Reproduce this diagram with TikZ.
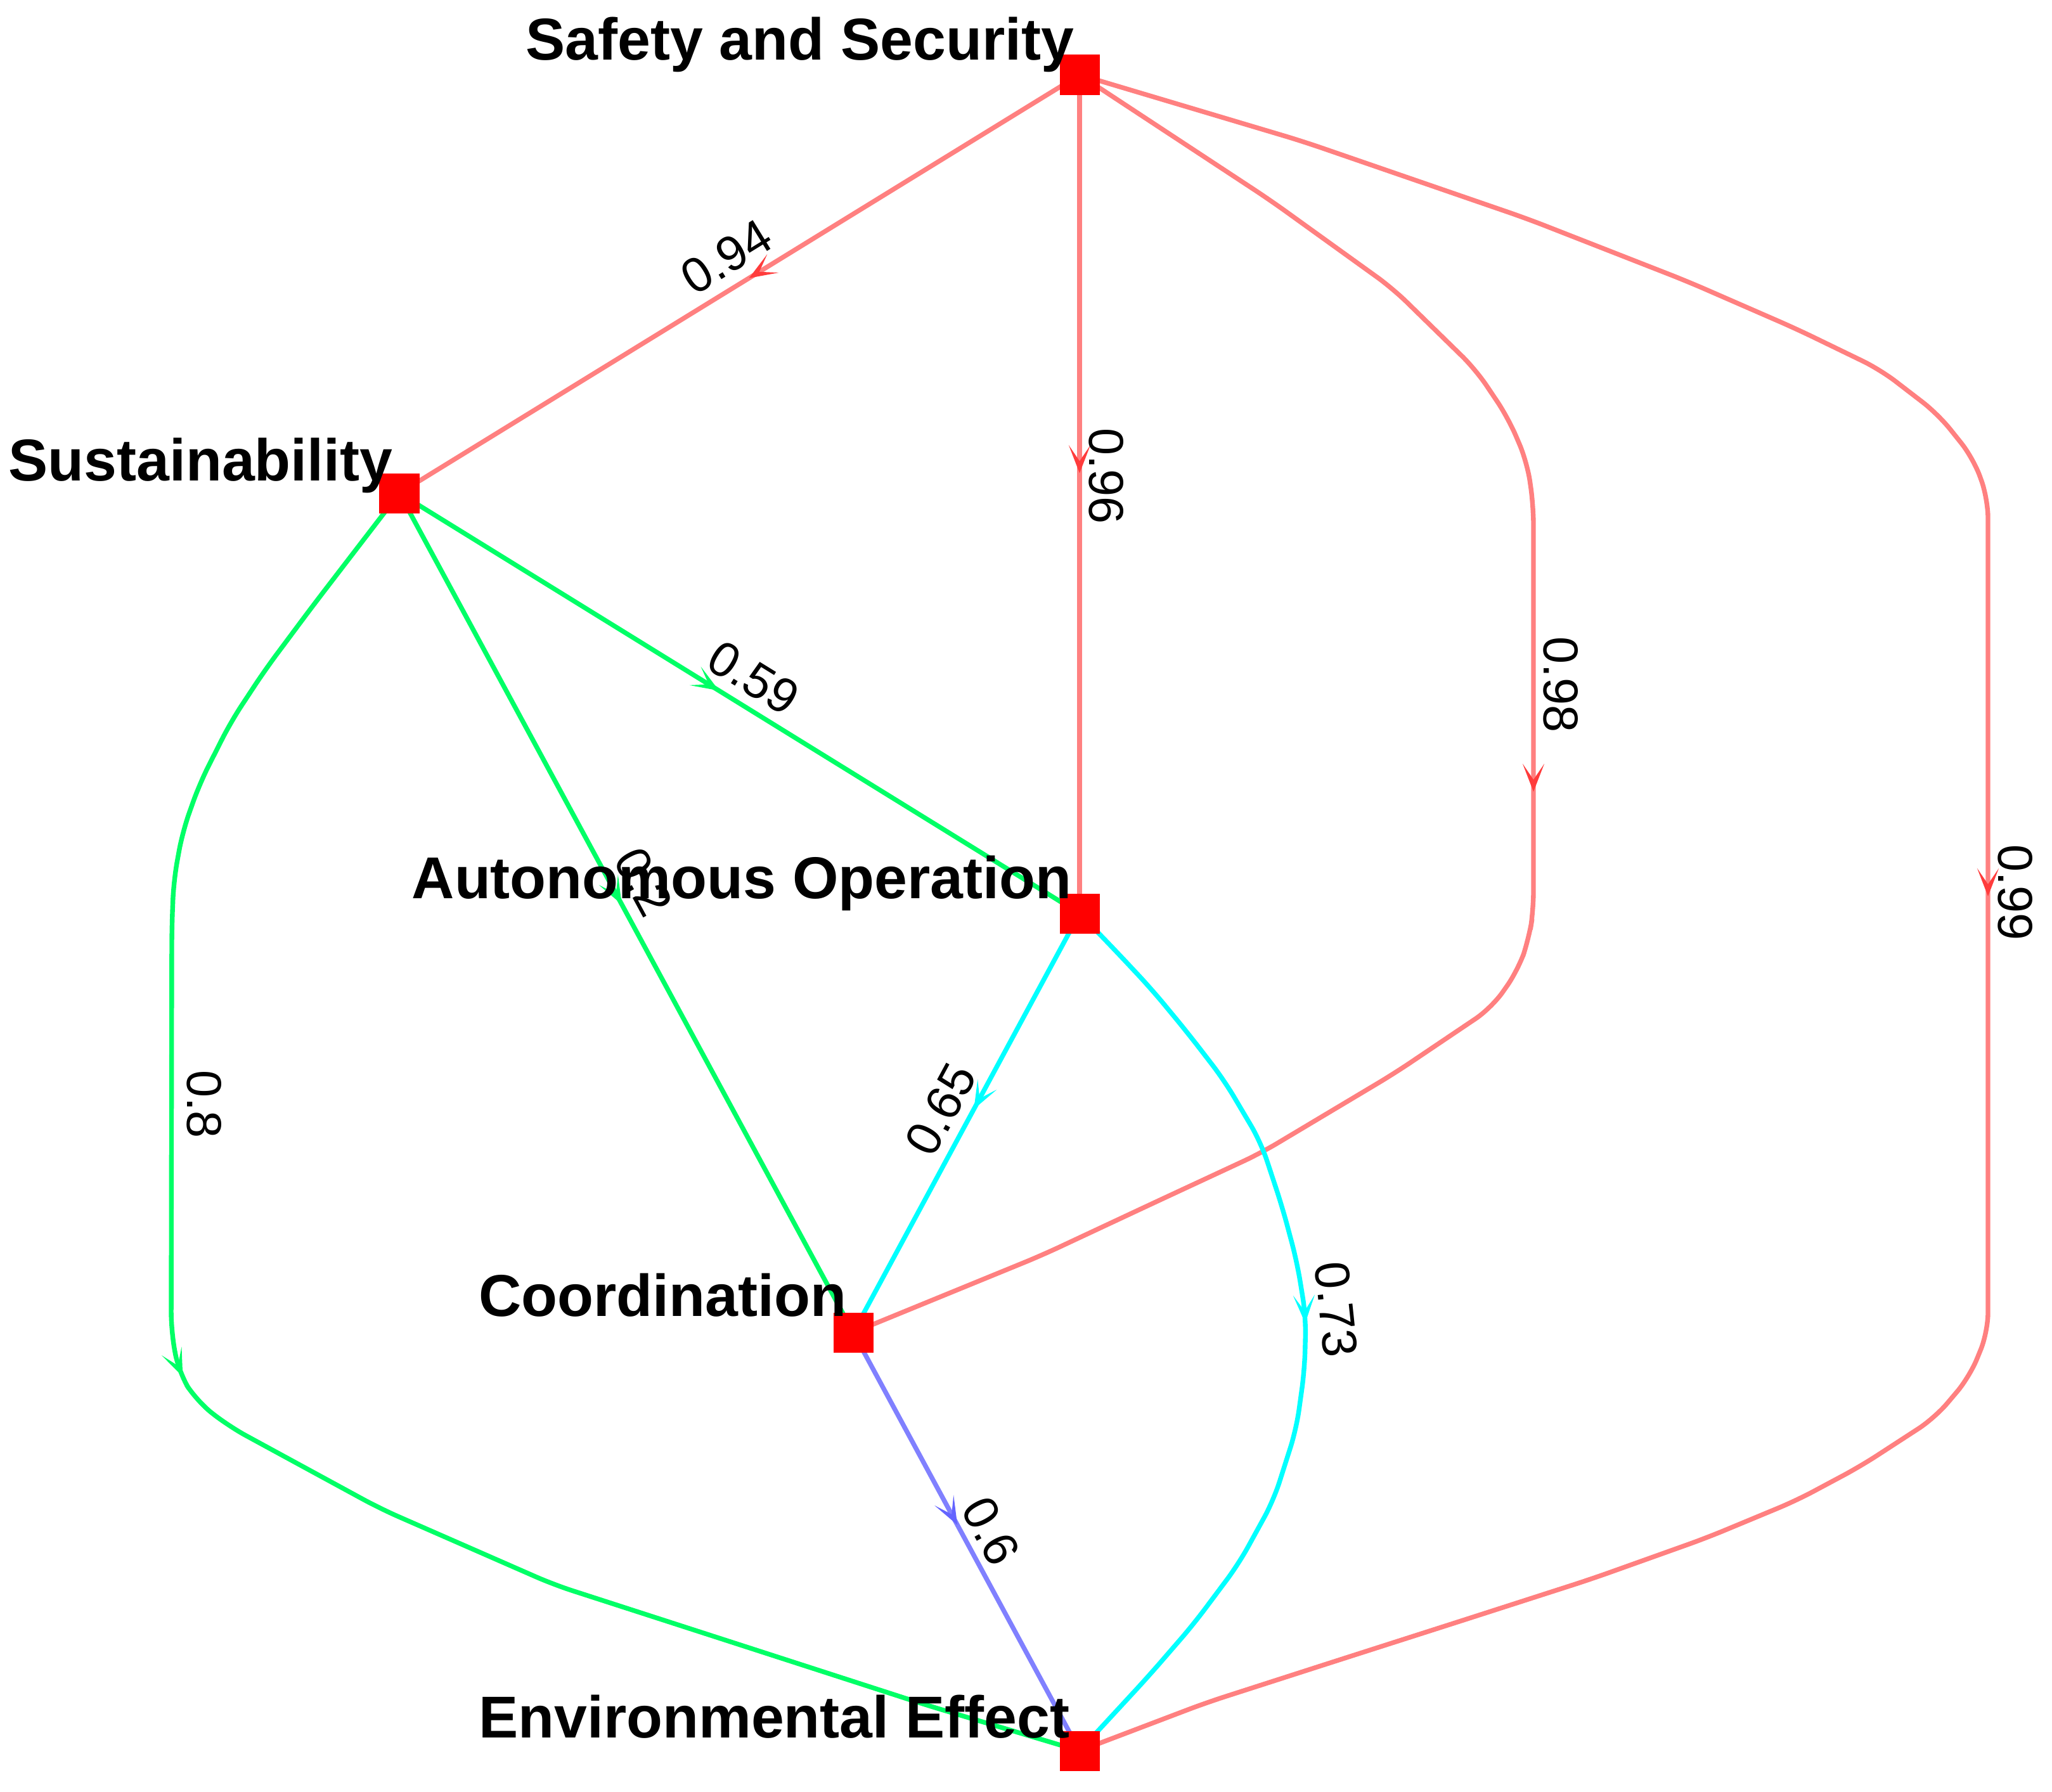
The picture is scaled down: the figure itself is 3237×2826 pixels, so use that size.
\documentclass[tikz,border=0pt]{standalone}
\usepackage{fontspec}
\setmainfont{Liberation Sans}
\usetikzlibrary{arrows.meta,decorations.markings,backgrounds,calc}
\definecolor{redE}{RGB}{255,128,128}
\definecolor{redA}{RGB}{255,60,60}
\definecolor{greenE}{RGB}{0,255,102}
\definecolor{cyanE}{RGB}{0,255,255}
\definecolor{blueE}{RGB}{128,128,255}
\definecolor{blueA}{RGB}{100,100,255}
\begin{document}
\begin{tikzpicture}[x=0.01cm,y=-0.01cm,
  vbox/.style={draw=none,fill=red,minimum size=0.63cm,inner sep=0pt},
  vlab/.style={font=\fontsize{26.5}{30}\selectfont\bfseries,inner sep=0pt,anchor=base east},
  elab/.style={font=\fontsize{22}{26}\selectfont,inner sep=0pt},
  edge/.style={line width=2.1pt,line join=round,line cap=round},
  curved/.style={rounded corners=0.3cm},
  midarrow/.style 2 args={postaction={decorate},decoration={markings,mark=at position #1 with {\arrow{Stealth[length=0.44cm,width=0.34cm,inset=0.25cm,color=#2]}}}},
]
\useasboundingbox (0,0) rectangle (3237,2826);

% vertices
\node[vbox] (S) at (1703,118) {};
\node[vbox] (U) at (630,778) {};
\node[vbox] (A) at (1703,1441) {};
\node[vbox] (C) at (1346,2102) {};
\node[vbox] (E) at (1703,2762) {};

% vertex labels
\node[vlab] (Sl) at ($(S.center)+(-8,-24)$) {Safety and Security};
\node[vlab] (Ul) at ($(U.center)+(-10,-20)$) {Sustainability};
\node[vlab] (Al) at ($(A.center)+(-12,-24)$) {Autonomous Operation};
\node[vlab] (Cl) at ($(C.center)+(-10,-26)$) {Coordination};
\node[vlab] (El) at ($(E.center)+(-15,-21)$) {Environmental Effect};

% edges
\begin{scope}[on background layer]
\draw[edge,redE,midarrow={0.486}{redA}] (S.center) -- (U.center);
\draw[edge,redE,midarrow={0.475}{redA}] (S.center) -- (A.center);
\draw[edge,redE,curved,midarrow={0.489}{redA}] (S.center) -- (2004,316) -- (2197,455) -- (2328,583) -- (2379,659) -- (2409,729) -- (2419,798) -- (2419,1436) -- (2412,1480) -- (2395,1530) -- (2353,1590) -- (2200,1693) -- (1989,1819) -- (1817,1899) -- (1644,1980) -- (C.center);
\draw[edge,redE,curved,midarrow={0.494}{redA}] (S.center) -- (2055,223) -- (2409,345) -- (2662,444) -- (2834,519) -- (2966,583) -- (3057,653) -- (3113,723) -- (3136,787) -- (3136,2101) -- (3107,2172) -- (3052,2237) -- (2935,2313) -- (2834,2367) -- (2692,2426) -- (2510,2491) -- (2308,2556) -- (2105,2621) -- (1903,2686) -- (E.center);
\draw[edge,greenE,midarrow={0.47}{greenE}] (U.center) -- (A.center);
\draw[edge,greenE,midarrow={0.49}{greenE}] (U.center) -- (C.center);
\draw[edge,greenE,curved,midarrow={0.49}{greenE}] (U.center) -- (494,955) -- (418,1057) -- (364,1139) -- (315,1236) -- (288,1312) -- (274,1389) -- (271,1465) -- (270,2100) -- (282,2165) -- (310,2210) -- (361,2250) -- (600,2380) -- (874,2500) -- (1462,2690) -- (E.center);
\draw[edge,cyanE,midarrow={0.467}{cyanE}] (A.center) -- (C.center);
\draw[edge,cyanE,curved,midarrow={0.49}{cyanE}] (A.center) -- (1760,1500) -- (1817,1561) -- (1874,1630) -- (1931,1704) -- (1989,1802) -- (2023,1905) -- (2046,1991) -- (2060,2077) -- (2058,2160) -- (2045,2254) -- (2009,2367) -- (1954,2467) -- (1883,2562) -- (1812,2644) -- (E.center);
\draw[edge,blueE,midarrow={0.46}{blueA}] (C.center) -- (E.center);
\end{scope}

% edge labels
\node[elab,rotate=31.6] (l094) at (1146,405) {0.94};
\node[elab,rotate=-90] (l096) at (1745,751) {0.96};
\node[elab,rotate=-90] (l098) at (2462,1080) {0.98};
\node[elab,rotate=-90] (l099) at (3179,1408) {0.99};
\node[elab,rotate=-31.7] (l059) at (1189,1069) {0.59};
\node[elab,rotate=-61.6] (l02) at (1015,1391) {0.2};
\node[elab,rotate=61.6] (l065) at (1484,1750) {0.65};
\node[elab,rotate=-84] (l073) at (2108,2066) {0.73};
\node[elab,rotate=-61.6] (l06) at (1563,2415) {0.6};
\node[elab,rotate=-90] (l08) at (322,1742) {0.8};
\end{tikzpicture}
\end{document}
